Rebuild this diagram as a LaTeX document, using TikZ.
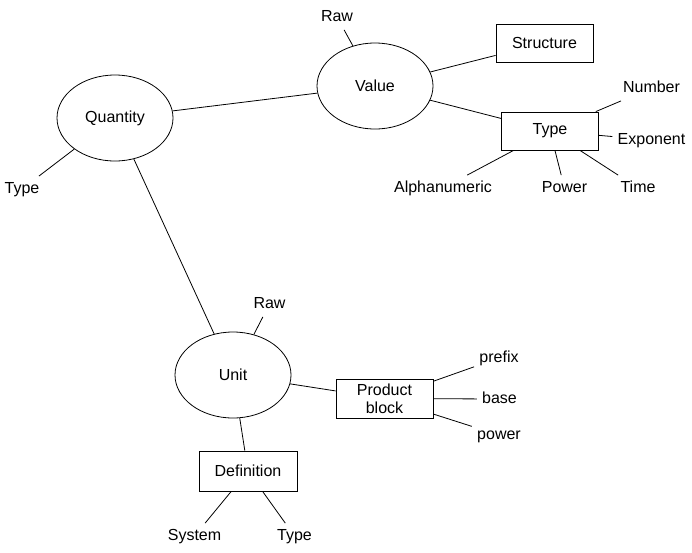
\documentclass[tikz,border=0pt]{standalone}
\usepackage{fontspec}
\setmainfont{Liberation Sans}
\usepackage{tikz}
\usetikzlibrary{shapes.geometric}

\begin{document}
\begin{tikzpicture}[x=1pt, y=-1pt, line width=0.8pt,
    font=\fontsize{16}{18}\selectfont,
    oval/.style={shape=ellipse, draw, inner sep=0pt, minimum width=116pt, minimum height=86pt},
    block/.style={shape=rectangle, draw, inner sep=0pt, minimum width=97pt, minimum height=38pt, align=center},
    tag/.style={inner sep=5pt, text height=11.5pt, text depth=3.5pt}]
    \useasboundingbox (0,0) rectangle (692,552);

    \node[oval] (quantity) at (115,118) {Quantity};
    \node[oval] (value) at (375,86) {Value};
    \node[oval] (unit) at (233,375) {Unit};

    \node[block] (structure) at (544.5,43) {Structure};
    \node[block] (vtype) at (550,131) {Type};
    \node[block, minimum height=39pt] (product) at (384.5,398.5) {Product\\block};
    \node[block, minimum width=98pt, minimum height=40pt] (definition) at (248,471) {Definition};

    \node[tag] (qtype) at (22,189) {Type};
    \node[tag] (vraw) at (337,17) {Raw};
    \node[tag] (number) at (651.5,88) {Number};
    \node[tag] (exponent) at (651.5,140) {Exponent};
    \node[tag] (alnum) at (443,188) {Alphanumeric};
    \node[tag] (power) at (564.5,188) {Power};
    \node[tag] (time) at (638,188) {Time};
    \node[tag] (uraw) at (269.5,304) {Raw};
    \node[tag] (prefix) at (499,358) {prefix};
    \node[tag] (base) at (499.5,399) {base};
    \node[tag] (bpower) at (499,435) {power};
    \node[tag] (system) at (194.5,536) {System};
    \node[tag] (dtype) at (294.5,536) {Type};

    \draw (quantity) -- (value);
    \draw (quantity) -- (unit);
    \draw (quantity) -- (qtype);

    \draw (value) -- (vraw);
    \draw (value) -- (structure);
    \draw (value) -- (vtype);
    \draw (vtype) -- (number);
    \draw (vtype) -- (exponent);
    \draw (vtype) -- (alnum);
    \draw (vtype) -- (power);
    \draw (vtype) -- (time);

    \draw (unit) -- (uraw);
    \draw (unit) -- (product);
    \draw (unit) -- (definition);
    \draw (product) -- (prefix);
    \draw (product) -- (base);
    \draw (product) -- (bpower);
    \draw (definition) -- (system);
    \draw (definition) -- (dtype);
\end{tikzpicture}
\end{document}
